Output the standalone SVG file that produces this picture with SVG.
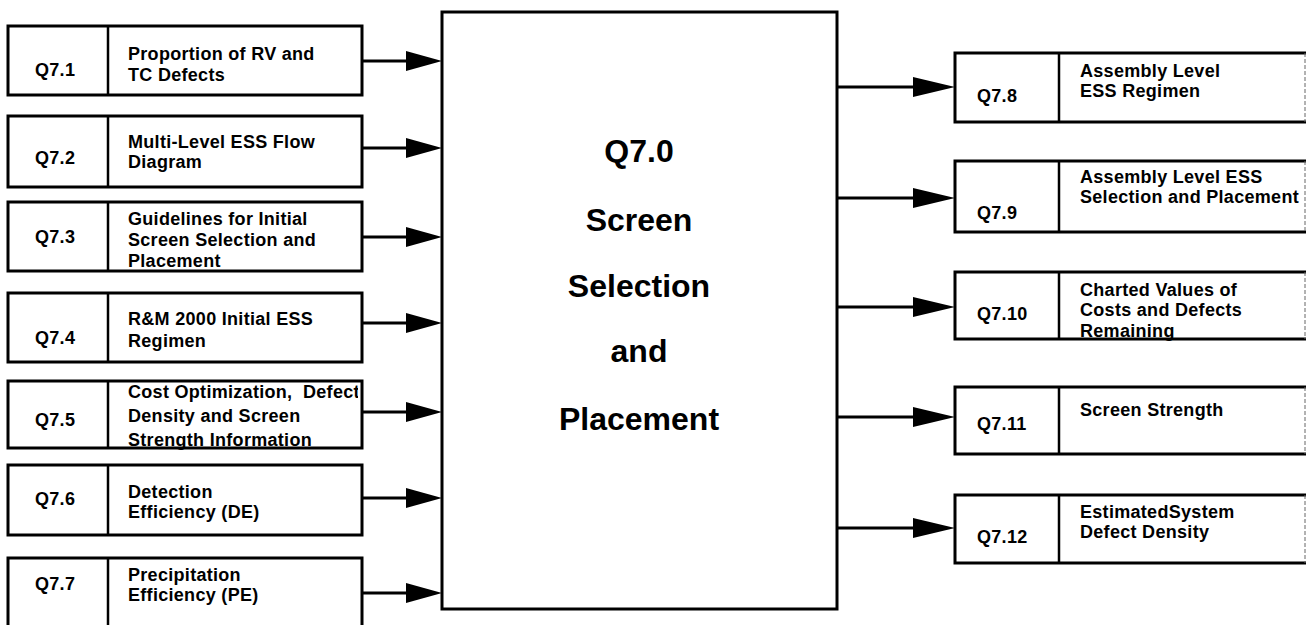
<svg xmlns="http://www.w3.org/2000/svg" width="1307" height="625" viewBox="0 0 1307 625">
<style>
.box{fill:#fff;stroke:#000;stroke-width:3}
.nofill{fill:none}
.div{stroke:#000;stroke-width:2.5}
.t{font-family:"Liberation Sans",Arial,sans-serif;font-weight:bold;font-size:18px;letter-spacing:0.3px;fill:#000}
.c{font-family:"Liberation Sans",Arial,sans-serif;font-weight:bold;font-size:32px;fill:#000;text-anchor:middle}
.ln{stroke:#000;stroke-width:3;fill:none}
.ah{fill:#000}
.edge{stroke:#666;stroke-width:1;stroke-dasharray:4 2}
</style>
<defs>
<clipPath id="clipL"><rect x="0" y="0" width="358" height="625"/></clipPath>
<path id="arrowL" d="M0,-10 L36,0 L0,10 Z"/>
<path id="arrowR" d="M0,-10 L42,0 L0,10 Z"/>
</defs>
<rect width="1307" height="625" fill="#fff"/>

<g id="connectors">
<line class="ln" x1="362" y1="61" x2="408" y2="61"/><use href="#arrowL" class="ah" x="406" y="61"/>
<line class="ln" x1="362" y1="148" x2="408" y2="148"/><use href="#arrowL" class="ah" x="406" y="148"/>
<line class="ln" x1="362" y1="237" x2="408" y2="237"/><use href="#arrowL" class="ah" x="406" y="237"/>
<line class="ln" x1="362" y1="323" x2="408" y2="323"/><use href="#arrowL" class="ah" x="406" y="323"/>
<line class="ln" x1="362" y1="412" x2="408" y2="412"/><use href="#arrowL" class="ah" x="406" y="412"/>
<line class="ln" x1="362" y1="498" x2="408" y2="498"/><use href="#arrowL" class="ah" x="406" y="498"/>
<line class="ln" x1="362" y1="593" x2="408" y2="593"/><use href="#arrowL" class="ah" x="406" y="593"/>

<line class="ln" x1="837" y1="87" x2="916" y2="87"/><use href="#arrowR" class="ah" x="913" y="87"/>
<line class="ln" x1="837" y1="198" x2="916" y2="198"/><use href="#arrowR" class="ah" x="913" y="198"/>
<line class="ln" x1="837" y1="307" x2="916" y2="307"/><use href="#arrowR" class="ah" x="913" y="307"/>
<line class="ln" x1="837" y1="417" x2="916" y2="417"/><use href="#arrowR" class="ah" x="913" y="417"/>
<line class="ln" x1="837" y1="528" x2="916" y2="528"/><use href="#arrowR" class="ah" x="913" y="528"/>
</g>

<g id="center">
<rect class="box" x="442" y="12" width="395" height="597"/>
<text class="c" x="639" y="162">Q7.0</text>
<text class="c" x="639" y="231">Screen</text>
<text class="c" x="639" y="297">Selection</text>
<text class="c" x="639" y="362">and</text>
<text class="c" x="639" y="430">Placement</text>
</g>

<g id="q71">
<rect class="box" x="8" y="26" width="354" height="69"/>
<line class="div" x1="108" y1="26" x2="108" y2="95"/>
<text class="t" x="35" y="76">Q7.1</text>
<text class="t" x="128" y="60">Proportion of RV and</text>
<text class="t" x="128" y="81">TC Defects</text>
</g>
<g id="q72">
<rect class="box" x="8" y="116" width="354" height="71"/>
<line class="div" x1="108" y1="116" x2="108" y2="187"/>
<text class="t" x="35" y="164">Q7.2</text>
<text class="t" x="128" y="148">Multi-Level ESS Flow</text>
<text class="t" x="128" y="168">Diagram</text>
</g>
<g id="q73">
<rect class="box" x="8" y="202" width="354" height="69"/>
<line class="div" x1="108" y1="202" x2="108" y2="271"/>
<text class="t" x="35" y="243">Q7.3</text>
<text class="t" x="128" y="225">Guidelines for Initial</text>
<text class="t" x="128" y="246">Screen Selection and</text>
<text class="t" x="128" y="267">Placement</text>
</g>
<g id="q74">
<rect class="box" x="8" y="293" width="354" height="69"/>
<line class="div" x1="108" y1="293" x2="108" y2="362"/>
<text class="t" x="35" y="344">Q7.4</text>
<text class="t" x="128" y="325">R&amp;M 2000 Initial ESS</text>
<text class="t" x="128" y="347">Regimen</text>
</g>
<g id="q75">
<text class="t" x="35" y="426">Q7.5</text>
<g clip-path="url(#clipL)">
<text class="t" x="128" y="398" xml:space="preserve">Cost Optimization,  Defect</text>
</g>
<text class="t" x="128" y="422">Density and Screen</text>
<text class="t" x="128" y="446">Strength Information</text>
<rect class="box nofill" x="8" y="381" width="354" height="67" style="fill:none"/>
<line class="div" x1="108" y1="381" x2="108" y2="448"/>
</g>
<g id="q76">
<rect class="box" x="8" y="465" width="354" height="70"/>
<line class="div" x1="108" y1="465" x2="108" y2="535"/>
<text class="t" x="35" y="505">Q7.6</text>
<text class="t" x="128" y="498">Detection</text>
<text class="t" x="128" y="518">Efficiency (DE)</text>
</g>
<g id="q77">
<rect class="box" x="8" y="558" width="354" height="90"/>
<line class="div" x1="108" y1="558" x2="108" y2="648"/>
<text class="t" x="35" y="590">Q7.7</text>
<text class="t" x="128" y="581">Precipitation</text>
<text class="t" x="128" y="601">Efficiency (PE)</text>
</g>

<g id="q78">
<path class="box" d="M1306,53 H955 V122 H1306"/>
<line class="edge" x1="1305" y1="53" x2="1305" y2="122"/>
<line class="div" x1="1059" y1="53" x2="1059" y2="122"/>
<text class="t" x="977" y="102">Q7.8</text>
<text class="t" x="1080" y="77">Assembly Level</text>
<text class="t" x="1080" y="97">ESS Regimen</text>
</g>
<g id="q79">
<path class="box" d="M1306,161 H955 V232 H1306"/>
<line class="edge" x1="1305" y1="161" x2="1305" y2="232"/>
<line class="div" x1="1059" y1="161" x2="1059" y2="232"/>
<text class="t" x="977" y="219">Q7.9</text>
<text class="t" x="1080" y="183">Assembly Level ESS</text>
<text class="t" x="1080" y="203">Selection and Placement</text>
</g>
<g id="q710">
<text class="t" x="977" y="320">Q7.10</text>
<text class="t" x="1080" y="296">Charted Values of</text>
<text class="t" x="1080" y="316">Costs and Defects</text>
<text class="t" x="1080" y="337">Remaining</text>
<path class="box nofill" style="fill:none" d="M1306,272 H955 V339 H1306"/>
<line class="edge" x1="1305" y1="272" x2="1305" y2="339"/>
<line class="div" x1="1059" y1="272" x2="1059" y2="339"/>
</g>
<g id="q711">
<path class="box" d="M1306,387 H955 V454 H1306"/>
<line class="edge" x1="1305" y1="387" x2="1305" y2="454"/>
<line class="div" x1="1059" y1="387" x2="1059" y2="454"/>
<text class="t" x="977" y="430">Q7.11</text>
<text class="t" x="1080" y="416">Screen Strength</text>
</g>
<g id="q712">
<path class="box" d="M1306,495 H955 V563 H1306"/>
<line class="edge" x1="1305" y1="495" x2="1305" y2="563"/>
<line class="div" x1="1059" y1="495" x2="1059" y2="563"/>
<text class="t" x="977" y="543">Q7.12</text>
<text class="t" x="1080" y="518">EstimatedSystem</text>
<text class="t" x="1080" y="538">Defect Density</text>
</g>
</svg>
